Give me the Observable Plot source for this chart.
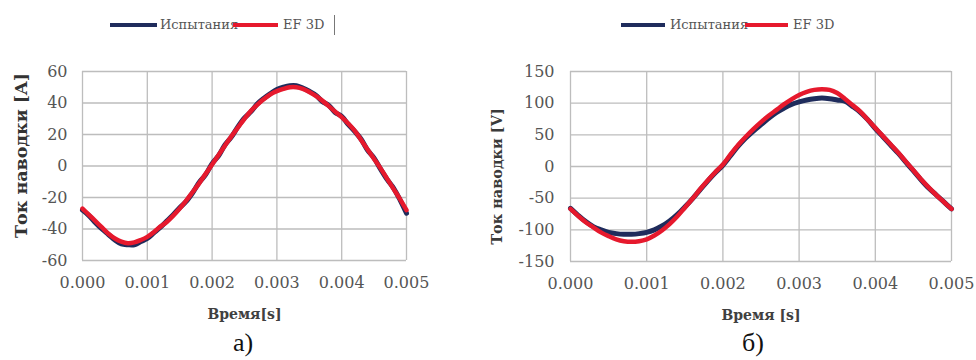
<!DOCTYPE html>
<html><head><meta charset="utf-8">
<script src="https://cdn.jsdelivr.net/npm/d3@7"></script>
<script src="https://cdn.jsdelivr.net/npm/@observablehq/plot@0.6"></script>
<style>
html,body{margin:0;padding:0;background:#fff;}
#root{position:relative;width:976px;height:360px;overflow:hidden;background:#fff;}
.panel{position:absolute;top:0;width:488px;height:360px;}
.leg{position:absolute;font-family:"DejaVu Serif";font-size:13px;color:#555;line-height:16px;top:17px;white-space:nowrap;}
.sw{position:absolute;height:4px;top:23px;}
.cap{position:absolute;top:330px;width:60px;text-align:center;font-family:"Liberation Serif";font-size:26px;line-height:26px;color:#111;}
</style></head><body><div id="root"></div>
<script>
// time (s)
const time = [0.0000,0.0001,0.0002,0.0003,0.0004,0.0005,0.0006,0.0007,0.0008,0.0009,
  0.0010,0.0011,0.0012,0.0013,0.0014,0.0015,0.0016,0.0017,0.0018,0.0019,
  0.0020,0.0021,0.0022,0.0023,0.0024,0.0025,0.0026,0.0027,0.0028,0.0029,
  0.0030,0.0031,0.0032,0.0033,0.0034,0.0035,0.0036,0.0037,0.0038,0.0039,
  0.0040,0.0041,0.0042,0.0043,0.0044,0.0045,0.0046,0.0047,0.0048,0.0049,0.0050];
// panel a) current [A]
const leftTest = [-28,-31.5,-36,-40,-43.5,-47,-49.5,-50,-50,-48,-46,-42.5,-39,-35,-31,-26.5,-22.5,-17,-10.5,-5.5,
  1.5,6.5,13.5,18.5,25,30.5,34.5,39.5,43,46,48.5,50,51,51,49.5,47.5,45,41,38.5,34,
  31.5,26.5,22,17,10,5,-2,-8.5,-14,-21.5,-30];
const leftEF = [-27,-31,-35,-39,-43,-46,-48,-49,-48.5,-47,-45,-42,-38.5,-35.5,-31.5,-27,-22,-16.5,-11,-5,
  1,7,13,19,24.5,30,35,39,42.5,45.5,47.5,49,50,50,49,47,44.5,41.5,38,34.5,
  31,27,22.5,16.5,10.5,4.5,-1.5,-8,-14.5,-21,-28];
// panel б) voltage [V]
const rightTest = [-66,-77,-87,-95,-100,-104,-106,-107,-107,-106,-104,-100,-94,-86,-76,-64,-51,-37,-23,-10,
  2,17,32,45,56,66,76,85,92,98,102,105,107,108,107,105,103,95,86,74,
  60,47,34,21,7,-7,-21,-34,-45,-56,-67];
const rightEF = [-67,-78,-88,-96,-104,-110,-115,-118,-119,-118,-115,-109,-101,-91,-79,-65,-51,-36,-22,-9,
  3,19,34,47,59,70,80,89,98,106,113,118,121,122,121,116,107,97,87,74,
  61,48,35,22,8,-6,-20,-33,-45,-56,-67];
// ticks
const xTicks = [0,0.001,0.002,0.003,0.004,0.005];
const leftYTicks = [-60,-40,-20,0,20,40,60];
const rightYTicks = [-150,-100,-50,0,50,100,150];
const seriesNames = ["Испытания","EF 3D"];

const DARK = "#1f2c5c", RED = "#e6192d", GRID = "#bdbdbd";

function makePanel(o){
  const rows = time.map((t,i)=>({t, test:o.test[i], ef:o.ef[i]}));
  return Plot.plot({
    width:488, height:360,
    marginLeft:82, marginRight:o.mr, marginTop:71, marginBottom:o.mb,
    x:{domain:[0,0.005], label:null},
    y:{domain:o.yDomain, label:null},
    style:{fontFamily:"DejaVu Serif", fontSize:"16px", color:"#555", background:"transparent", overflow:"visible"},
    marks:[
      Plot.gridX(xTicks,{stroke:GRID, strokeOpacity:1, strokeWidth:1.3}),
      Plot.gridY(o.yTicks,{stroke:GRID, strokeOpacity:1, strokeWidth:1.3}),
      Plot.axisX(xTicks,{tickSize:0, tickPadding:16, tickFormat:d=>d.toFixed(3), label:null, fontSize:16}),
      Plot.axisY(o.yTicks,{tickSize:0, tickPadding:o.yPad, tickFormat:d=>String(d), label:null, fontSize:16}),
      Plot.lineY(rows,{x:"t", y:"test", stroke:DARK, strokeWidth:5, curve:"catmull-rom", strokeLinejoin:"round"}),
      Plot.lineY(rows,{x:"t", y:"ef", stroke:RED, strokeWidth:4.5, curve:"catmull-rom", strokeLinejoin:"round"}),
      Plot.text([o.yLabel],{frameAnchor:"left", textAnchor:"middle", rotate:-90, dx:o.yDx, dy:o.yDy, fontWeight:"bold", fontSize:o.ySize, fill:o.yFill, fontFamily:"DejaVu Serif"}),
      Plot.text([o.xLabel],{frameAnchor:"bottom", textAnchor:"middle", dy:58, fontWeight:"bold", fontSize:14, fill:"#404040", fontFamily:"DejaVu Serif"})
    ]
  });
}

const root = document.getElementById("root");
const panels = [
  {left:0, test:leftTest, ef:leftEF, yDomain:[-60,60], yTicks:leftYTicks, mr:82, mb:100, yPad:15,
   yLabel:"Ток наводки [A]", yDx:-61, yDy:-10.5, ySize:17.5, yFill:"#333", xLabel:"Время[s]", cap:"а)", capX:243,
   leg:{d:110, dw:47, t1:160, r:233, rw:45, t2:283}, cursor:true},
  {left:488, test:rightTest, ef:rightEF, yDomain:[-150,150], yTicks:rightYTicks, mr:25, mb:99, yPad:16,
   yLabel:"Ток наводки [V]", yDx:-73, yDy:10, ySize:14.5, yFill:"#3a3a3a", xLabel:"Время [s]", cap:"б)", capX:753,
   leg:{d:621, dw:44, t1:670, r:745, rw:43, t2:793}, cursor:false}
];
for (const p of panels){
  const div = document.createElement("div");
  div.className = "panel"; div.style.left = p.left+"px";
  div.appendChild(makePanel(p));
  root.appendChild(div);
  const add = (cls, css, text) => { const e=document.createElement("div"); e.className=cls; Object.assign(e.style, css); if(text) e.textContent=text; root.appendChild(e); return e; };
  add("sw",{left:p.leg.d+"px", width:p.leg.dw+"px", background:DARK});
  add("leg",{left:p.leg.t1+"px"}, seriesNames[0]);
  add("sw",{left:p.leg.r+"px", width:p.leg.rw+"px", background:RED});
  add("leg",{left:p.leg.t2+"px"}, seriesNames[1]);
  if (p.cursor) add("sw",{left:"334px", width:"1px", top:"15px", height:"20px", background:"#777"});
  add("cap",{left:(p.capX-30)+"px"}, p.cap);
}
</script>
</body></html>
